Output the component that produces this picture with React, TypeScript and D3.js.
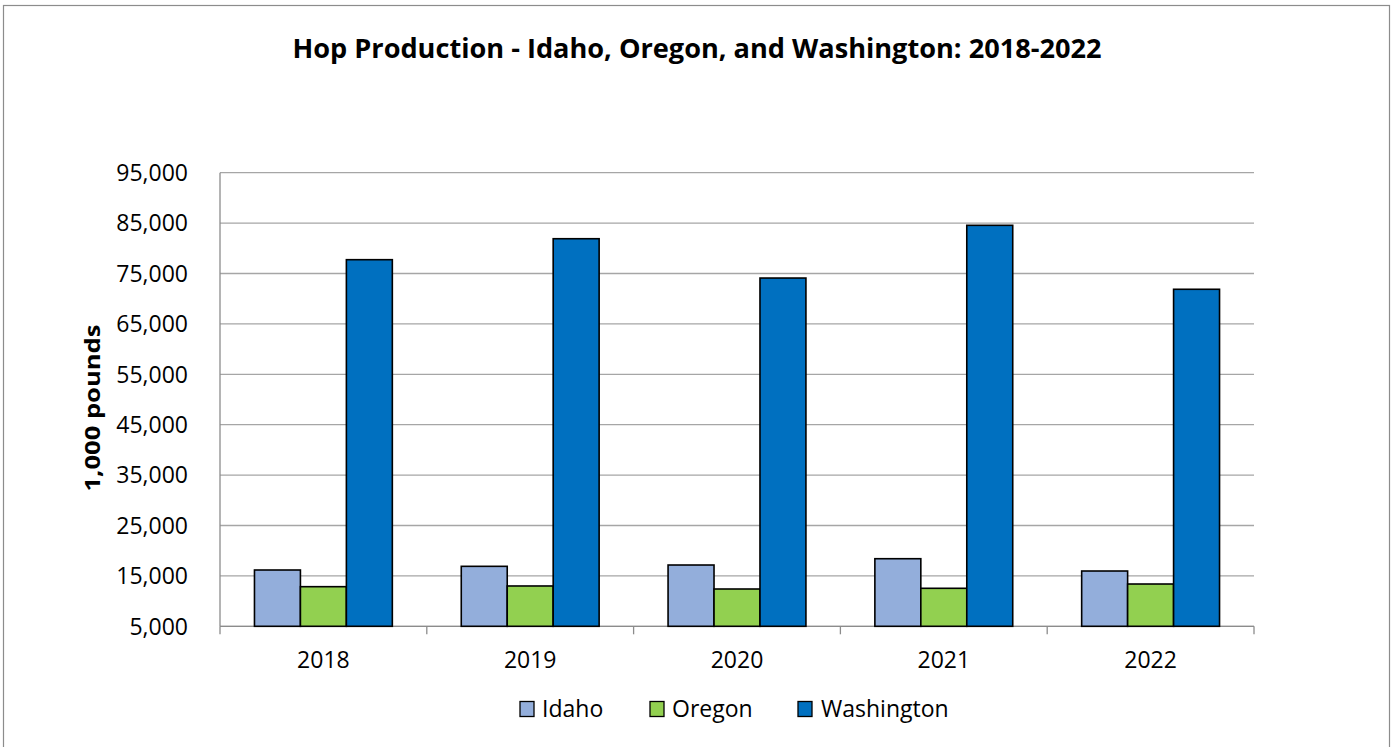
import * as d3 from 'd3';

const years = ['2018', '2019', '2020', '2021', '2022'];
const seriesNames = ['Idaho', 'Oregon', 'Washington'];
const idaho = [16170, 16900, 17160, 18410, 15970];
const oregon = [12860, 13000, 12400, 12540, 13390];
const washington = [77740, 81900, 74100, 84560, 71870];
const yTicks = [5000, 15000, 25000, 35000, 45000, 55000, 65000, 75000, 85000, 95000];

const colors = ['#93AEDB', '#92D050', '#0070C0'];
const font = '"Open Sans", "Noto Sans", sans-serif';

export default function App() {
	const width = 1394;
	const height = 747;
	const plot = { left: 220, right: 1254, top: 172.7, bottom: 626.3 };

	const table = years.map((year, i) => ({
		year,
		values: [idaho[i], oregon[i], washington[i]],
	}));

	const x = d3
		.scaleBand()
		.domain(years)
		.range([plot.left, plot.right])
		.paddingInner(0)
		.paddingOuter(0);

	// 150% gap width like Excel: half a bar-and-a-half of space on each side
	const inner = d3
		.scaleBand()
		.domain(seriesNames)
		.range([0, x.bandwidth()])
		.paddingInner(0)
		.paddingOuter(0.75);

	const y = d3.scaleLinear().domain([5000, 95000]).range([plot.bottom, plot.top]);
	const fmt = d3.format(',');

	const legendItems = [
		{ name: 'Idaho', sq: 520, tx: 542 },
		{ name: 'Oregon', sq: 650, tx: 672 },
		{ name: 'Washington', sq: 798, tx: 821 },
	];

	return (
		<div style={{ position: 'absolute', left: 0, top: 0 }}>
			<svg width={width} height={height} style={{ display: 'block', background: 'white' }}>
				<rect x={3.5} y={5.5} width={1386} height={760} fill='white' stroke='#8c8c8c' strokeWidth={1.2} />

				<text
					x={697}
					y={58}
					textAnchor='middle'
					fontFamily={font}
					fontWeight='bold'
					fontSize={26}
					textLength={809}
					lengthAdjust='spacingAndGlyphs'
					fill='#000'>
					Hop Production - Idaho, Oregon, and Washington: 2018-2022
				</text>

				{/* gridlines + y labels */}
				{yTicks.map((t) => (
					<g key={t}>
						<line x1={plot.left} x2={plot.right} y1={y(t)} y2={y(t)} stroke='#a6a6a6' strokeWidth={1.3} />
						<text
							x={188}
							y={y(t)}
							dy='0.36em'
							textAnchor='end'
							fontFamily={font}
							fontSize={23}
							fill='#000'>
							{fmt(t)}
						</text>
					</g>
				))}

				{/* axes */}
				<line x1={plot.left} x2={plot.left} y1={plot.top} y2={plot.bottom} stroke='#8c8c8c' strokeWidth={1.3} />
				<line x1={plot.left} x2={plot.right} y1={plot.bottom} y2={plot.bottom} stroke='#8c8c8c' strokeWidth={1.3} />
				{[...years.map((yr) => x(yr) as number), plot.right].map((px, i) => (
					<line key={i} x1={px} x2={px} y1={plot.bottom} y2={plot.bottom + 8} stroke='#8c8c8c' strokeWidth={1.3} />
				))}

				{/* bars */}
				{table.map((d) => (
					<g key={d.year} transform={`translate(${x(d.year)},0)`}>
						{d.values.map((v, j) => (
							<rect
								key={j}
								x={inner(seriesNames[j])}
								y={y(v)}
								width={inner.bandwidth()}
								height={y(5000) - y(v)}
								fill={colors[j]}
								stroke='#000'
								strokeWidth={1.6}
							/>
						))}
						<text
							x={x.bandwidth() / 2}
							y={668}
							textAnchor='middle'
							fontFamily={font}
							fontSize={23}
							fill='#000'>
							{d.year}
						</text>
					</g>
				))}

				<text
					transform='translate(100,408) rotate(-90)'
					textAnchor='middle'
					fontFamily={font}
					fontWeight='bold'
					fontSize={21}
					textLength={167}
					lengthAdjust='spacingAndGlyphs'
					fill='#000'>
					1,000 pounds
				</text>

				{/* legend */}
				{legendItems.map((item, i) => (
					<g key={item.name}>
						<rect x={item.sq} y={701.5} width={14} height={15} fill={colors[i]} stroke='#000' strokeWidth={1.3} />
						<text x={item.tx} y={716.5} fontFamily={font} fontSize={23} fill='#000'>
							{item.name}
						</text>
					</g>
				))}
			</svg>
		</div>
	);
}
